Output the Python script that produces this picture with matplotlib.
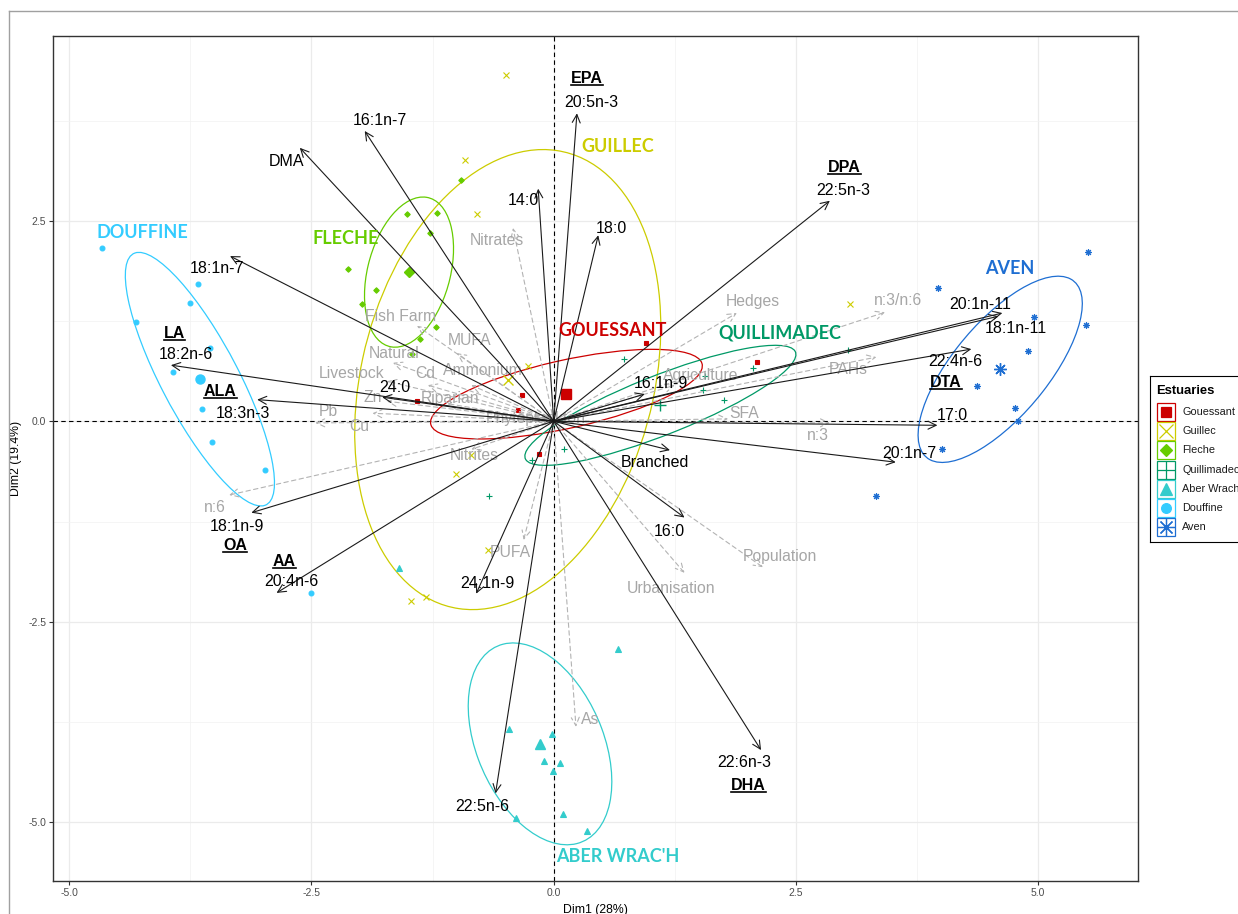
# %%
import numpy as np
import matplotlib.pyplot as plt
from matplotlib.patches import Ellipse, Rectangle
from matplotlib.lines import Line2D

plt.rcParams['font.family'] = ['Liberation Sans', 'DejaVu Sans']

# %% groups (estuaries)
estuaries = ['Gouessant', 'Guillec', 'Fleche', 'Quillimadec', 'Aber Wrach', 'Douffine', 'Aven']
group_titles = ['GOUESSANT', 'GUILLEC', 'FLECHE', 'QUILLIMADEC', "ABER WRAC'H", 'DOUFFINE', 'AVEN']
group_colors = ['#CC0000', '#CCCC00', '#66CC00', '#009966', '#33CCCC', '#33CCFF', '#1E6ED2']
group_title_x = [0.61, 0.66, -2.15, 2.33, 0.66, -4.24, 4.71]
group_title_y = [1.13, 3.43, 2.28, 1.10, -5.43, 2.35, 1.90]

# individuals (Dim1, Dim2)
gouessant_x = [0.95, 2.10, -1.41, -0.33, -0.37, -0.15]
gouessant_y = [0.98, 0.74, 0.25, 0.33, 0.14, -0.41]
guillec_x = [-0.49, -0.92, -0.79, 3.06, -0.27, -0.85, -1.01, -0.68, -1.47, -1.32]
guillec_y = [4.32, 3.26, 2.58, 1.46, 0.69, -0.42, -0.66, -1.60, -2.24, -2.19]
fleche_x = [-0.96, -1.51, -1.20, -1.28, -2.12, -1.83, -1.98, -1.21, -1.38, -1.46]
fleche_y = [3.01, 2.59, 2.60, 2.35, 1.90, 1.64, 1.46, 1.18, 1.03, 0.84]
quillimadec_x = [0.73, 2.06, 1.56, 1.54, 1.76, 3.04, 0.11, -0.22, -0.67]
quillimadec_y = [0.78, 0.66, 0.56, 0.39, 0.26, 0.89, -0.34, -0.48, -0.93]
aberwrach_x = [-1.60, 0.66, -0.46, -0.02, -0.10, 0.07, -0.01, -0.39, 0.10, 0.34]
aberwrach_y = [-1.83, -2.84, -3.84, -3.90, -4.23, -4.26, -4.36, -4.95, -4.90, -5.11]
douffine_x = [-4.66, -3.67, -3.75, -4.31, -3.55, -3.93, -3.63, -3.53, -2.98, -2.50]
douffine_y = [2.16, 1.71, 1.48, 1.24, 0.91, 0.61, 0.15, -0.26, -0.61, -2.14]
aven_x = [5.51, 3.97, 4.96, 5.49, 4.89, 4.37, 4.76, 4.79, 4.01, 3.33]
aven_y = [2.11, 1.66, 1.30, 1.20, 0.88, 0.44, 0.16, 0.00, -0.34, -0.93]

# confidence ellipses (full axes lengths, angle of major axis)
ell_major = [2.90, 5.80, 1.90, 3.09, 2.60, 3.42, 2.68]
ell_minor = [0.84, 3.04, 0.86, 0.72, 1.33, 0.82, 1.04]
ell_angle = [15.4, 80.0, 79.0, 25.9, -73.0, -66.9, 57.2]

# %% fatty acid variables (black arrows)
fa_names = ['20:5n-3', '16:1n-7', 'DMA', '14:0', '18:0', '22:5n-3', '18:1n-7', '18:2n-6',
            '18:3n-3', '24:0', '16:1n-9', '20:1n-11', '18:1n-11', '22:4n-6', '17:0', '20:1n-7',
            'Branched', '16:0', '22:6n-3', '22:5n-6', '24:1n-9', '20:4n-6', '18:1n-9']
fa_x = [0.24, -1.95, -2.62, -0.16, 0.46, 2.85, -3.34, -3.95,
        -3.06, -1.77, 0.94, 4.63, 4.59, 4.31, 3.96, 3.53,
        1.20, 1.35, 2.14, -0.60, -0.80, -2.86, -3.12]
fa_y = [3.84, 3.62, 3.41, 2.90, 2.32, 2.75, 2.06, 0.70,
        0.27, 0.30, 0.34, 1.35, 1.31, 0.90, -0.05, -0.51,
        -0.36, -1.20, -4.10, -4.64, -2.15, -2.14, -1.14]
fa_lab_x = [0.39, -1.79, -2.76, -0.31, 0.60, 2.99, -3.48, -3.80,
            -3.21, -1.64, 1.11, 4.40, 4.77, 4.14, 4.11, 3.67,
            1.05, 1.19, 1.97, -0.74, -0.68, -2.71, -3.27]
fa_lab_y = [3.97, 3.75, 3.24, 2.75, 2.41, 2.88, 1.91, 0.83,
            0.10, 0.42, 0.47, 1.45, 1.16, 0.74, 0.07, -0.40,
            -0.51, -1.37, -4.26, -4.80, -2.02, -2.00, -1.31]

# common names, underlined
acronyms = ['EPA', 'DPA', 'LA', 'ALA', 'DTA', 'DHA', 'AA', 'OA']
acronym_x = [0.34, 3.00, -3.91, -3.44, 4.05, 2.01, -2.78, -3.29]
acronym_y = [4.27, 3.17, 1.09, 0.37, 0.48, -4.54, -1.75, -1.55]

# supplementary variables (grey dashed arrows)
sup_names = ['Nitrates', 'Fish Farm', 'MUFA', 'Natural', 'Livestock', 'Cd', 'Ammonium', 'Zn',
             'Riparian', 'Pb', 'Cu', 'Phytoplankton', 'Nitrites', 'PUFA', 'As', 'Urbanisation',
             'Population', 'n:6', 'SFA', 'n:3', 'PAHs', 'Agriculture', 'Hedges', 'n:3/n:6']
sup_x = [-0.42, -1.41, -1.00, -1.66, -1.72, -1.30, -0.85, -1.72,
         -1.10, -2.46, -1.87, -0.35, -0.85, -0.31, 0.23, 1.35,
         2.16, -3.35, 1.80, 2.85, 3.33, 1.25, 1.89, 3.42]
sup_y = [2.41, 1.19, 0.85, 0.73, 0.50, 0.45, 0.45, 0.25,
         0.22, -0.02, 0.10, 0.06, -0.35, -1.48, -3.81, -1.89,
         -1.82, -0.92, 0.03, -0.02, 0.80, 0.45, 1.35, 1.36]
sup_lab_x = [-0.59, -1.58, -0.87, -1.65, -2.09, -1.33, -0.73, -1.87,
             -1.07, -2.33, -2.01, -0.19, -0.82, -0.45, 0.38, 1.21,
             2.34, -3.50, 1.97, 2.73, 3.04, 1.52, 2.06, 3.55]
sup_lab_y = [2.26, 1.31, 1.01, 0.85, 0.59, 0.59, 0.63, 0.30,
             0.29, 0.12, -0.07, 0.04, -0.43, -1.64, -3.72, -2.08,
             -1.68, -1.08, 0.10, -0.18, 0.64, 0.57, 1.49, 1.50]

# %%
fig = plt.figure(figsize=(12.38, 9.14), dpi=100)
W, H = 1238, 914
ax = fig.add_axes([53 / W, (H - 881) / H, (1138 - 53) / W, (881 - 36) / H])
ax.set_xlim(-5.167, 6.03)
ax.set_ylim(-5.732, 4.804)

ax.set_xticks([-5.0, -2.5, 0.0, 2.5, 5.0])
ax.set_yticks([-5.0, -2.5, 0.0, 2.5])
ax.set_xticks([-3.75, -1.25, 1.25, 3.75], minor=True)
ax.set_yticks([-3.75, -1.25, 1.25, 3.75], minor=True)
ax.set_xticklabels(['-5.0', '-2.5', '0.0', '2.5', '5.0'])
ax.set_yticklabels(['-5.0', '-2.5', '0.0', '2.5'])
ax.tick_params(which='major', length=3, width=0.8, color='#333333', labelsize=7.5,
               labelcolor='#4D4D4D', pad=2)
ax.tick_params(which='minor', length=0)
ax.grid(which='major', color='#EBEBEB', lw=0.9)
ax.grid(which='minor', color='#F2F2F2', lw=0.5)
ax.set_axisbelow(True)
for s in ax.spines.values():
    s.set_color('#333333')
    s.set_linewidth(1.0)
ax.set_xlabel('Dim1 (28%)', fontsize=8.8, labelpad=4)
ax.set_ylabel('Dim2 (19.4%)', fontsize=8.8, labelpad=4)

ax.axhline(0, color='black', lw=0.8, ls=(0, (4, 3)), zorder=1)
ax.axvline(0, color='black', lw=0.8, ls=(0, (4, 3)), zorder=1)

# %% individuals, centroids, ellipses
groups_x = [gouessant_x, guillec_x, fleche_x, quillimadec_x, aberwrach_x, douffine_x, aven_x]
groups_y = [gouessant_y, guillec_y, fleche_y, quillimadec_y, aberwrach_y, douffine_y, aven_y]
markers = ['s', 'x', 'D', '+', '^', 'o', (8, 2, 0)]
small_ms = [3.3, 4, 2.8, 4.8, 3.8, 3.5, 4.8]
big_ms = [7, 7.5, 5, 8.5, 7.5, 6.5, 9]
leg_ms = [7, 10, 6, 13, 9, 7, 12]

for i, name in enumerate(estuaries):
    c = group_colors[i]
    gx, gy = np.array(groups_x[i]), np.array(groups_y[i])
    ax.plot(gx, gy, ls='none', marker=markers[i], ms=small_ms[i], color=c, mew=0.8, zorder=3)
    ax.plot(gx.mean(), gy.mean(), ls='none', marker=markers[i], ms=big_ms[i], color=c, mew=1.0, zorder=3)
    ax.add_patch(Ellipse((gx.mean(), gy.mean()), ell_major[i], ell_minor[i], angle=ell_angle[i],
                         fill=False, edgecolor=c, lw=0.9, zorder=2))
    ax.text(group_title_x[i], group_title_y[i], group_titles[i], color=c, fontsize=13,
            fontweight='bold', family=['Lato', 'DejaVu Sans'], ha='center', va='center', zorder=6)

# %% arrows
for x, y, lx, ly, name in zip(sup_x, sup_y, sup_lab_x, sup_lab_y, sup_names):
    ax.annotate('', xy=(x, y), xytext=(0, 0),
                arrowprops=dict(arrowstyle='->,head_length=0.45,head_width=0.22', color='#B3B3B3',
                                lw=0.8, ls=(0, (4, 3)), shrinkA=0, shrinkB=0, mutation_scale=13),
                zorder=4)
    ax.text(lx, ly, name, color='#A6A6A6', fontsize=11.3, ha='center', va='center', zorder=5)

for x, y, lx, ly, name in zip(fa_x, fa_y, fa_lab_x, fa_lab_y, fa_names):
    ax.annotate('', xy=(x, y), xytext=(0, 0),
                arrowprops=dict(arrowstyle='->,head_length=0.45,head_width=0.22', color='#1A1A1A',
                                lw=0.8, shrinkA=0, shrinkB=0, mutation_scale=13),
                zorder=5)
    ax.text(lx, ly, name, color='black', fontsize=11.5, ha='center', va='center', zorder=6)

acr_texts = []
for x, y, name in zip(acronym_x, acronym_y, acronyms):
    t = ax.text(x, y, name, color='black', fontsize=11.5, fontweight='bold', ha='center',
                va='center', zorder=6)
    acr_texts.append(t)

# %% legend (partly outside the picture, as in the original)
lg = fig.add_axes([1150 / W, (H - 542) / H, 110 / W, 166 / H])
lg.set_xlim(1150, 1260)
lg.set_ylim(542, 376)
lg.set_xticks([])
lg.set_yticks([])
for s in lg.spines.values():
    s.set_color('black')
    s.set_linewidth(0.8)
lg.text(1156, 391, 'Estuaries', fontsize=9.4, fontweight='bold', ha='left', va='center')
for i, name in enumerate(estuaries):
    yc = 412 + 19.2 * i
    lg.add_patch(Rectangle((1156.5, yc - 9), 18, 18, fill=False, edgecolor=group_colors[i], lw=0.9))
    lg.plot(1165.5, yc, marker=markers[i], ms=leg_ms[i], color=group_colors[i], mew=0.9)
    lg.text(1182, yc, name, fontsize=7.8, color='#1A1A1A', ha='left', va='center')

# outer frame of the plot
fig.add_artist(Line2D([9 / W, 1.0], [1 - 11 / H, 1 - 11 / H], color='#A0A0A0', lw=1.0))
fig.add_artist(Line2D([9 / W, 9 / W], [0.0, 1 - 11 / H], color='#A0A0A0', lw=1.0))

# underline the common names
fig.canvas.draw()
inv = fig.transFigure.inverted()
for t in acr_texts:
    bb = t.get_window_extent()
    (x0, y0), (x1, _) = inv.transform([(bb.x0, bb.y0 + 1), (bb.x1, bb.y0 + 1)])
    fig.add_artist(Line2D([x0, x1], [y0, y0], color='black', lw=1.2))

plt.savefig('out.png', dpi=100)
